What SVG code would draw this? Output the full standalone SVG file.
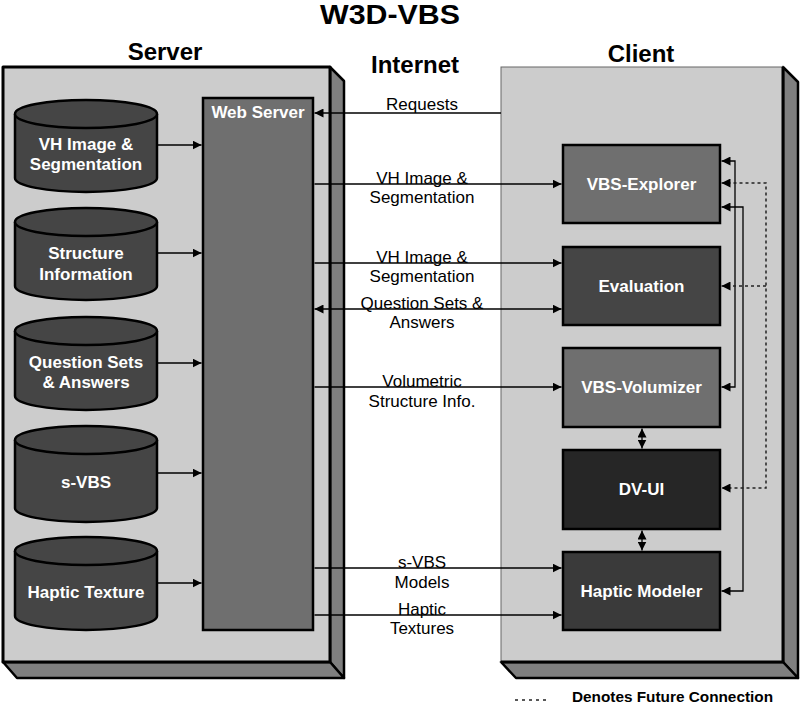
<svg xmlns="http://www.w3.org/2000/svg" width="800" height="707" viewBox="0 0 800 707">
<defs>
<marker id="ah" viewBox="0 0 10 10" refX="10" refY="5" markerWidth="9" markerHeight="9" markerUnits="userSpaceOnUse" orient="auto-start-reverse">
<path d="M0,0 L10,5 L0,10 z" fill="#000"/>
</marker>
<style>
.t{font-family:"Liberation Sans",Arial,sans-serif;}
.h{font-family:"Liberation Sans",Arial,sans-serif;font-weight:bold;font-size:24px;fill:#000;text-anchor:middle;}
.nl{font-family:"Liberation Sans",Arial,sans-serif;font-weight:bold;font-size:17px;fill:#fff;text-anchor:middle;}
.el{font-family:"Liberation Sans",Arial,sans-serif;font-size:17px;fill:#000;text-anchor:middle;}
.face{fill:#cccccc;stroke:#000;stroke-width:3;stroke-linejoin:round;}
.side{fill:#7f7f7f;stroke:#000;stroke-width:2.5;stroke-linejoin:round;}
.cyl{fill:#454545;stroke:#000;stroke-width:2.5;}
.box{stroke:#000;stroke-width:2.5;}
.c{fill:none;stroke:#000;stroke-width:1.3;}
.d{fill:none;stroke:#222;stroke-width:1.5;stroke-dasharray:3,3;}
</style>
</defs>
<rect width="800" height="707" fill="#fff"/>
<text class="t" x="390" y="24" font-size="28" font-weight="bold" text-anchor="middle" textLength="140" lengthAdjust="spacingAndGlyphs">W3D-VBS</text>
<text class="h" x="165" y="60">Server</text>
<text class="h" x="415" y="73">Internet</text>
<text class="h" x="641" y="62">Client</text>

<g id="server">
<polygon class="side" points="330,67 344,81 344,678 330,662"/>
<polygon class="side" points="3,662 330,662 344,678 17,678"/>
<rect class="face" x="3" y="67" width="327" height="595"/>
</g>
<g id="client">
<polygon class="side" points="783,67 798,82 798,678 783,662"/>
<polygon class="side" points="501,662 783,662 798,678 516,678"/>
<rect x="501" y="67" width="282" height="595" fill="#cccccc" stroke="#666" stroke-width="1"/>
<path d="M783,67 V662 H501" fill="none" stroke="#000" stroke-width="3"/>
</g>

<g id="db-vh">
<path class="cyl" d="M15,114 V178 A71,14 0 0 0 157,178 V114"/>
<ellipse class="cyl" cx="86" cy="114" rx="71" ry="14"/>
<text class="nl" x="86" y="150">VH Image &amp;</text>
<text class="nl" x="86" y="170">Segmentation</text>
</g>
<g id="db-structure">
<path class="cyl" d="M15,222 V286 A71,14 0 0 0 157,286 V222"/>
<ellipse class="cyl" cx="86" cy="222" rx="71" ry="14"/>
<text class="nl" x="86" y="259">Structure</text>
<text class="nl" x="86" y="280">Information</text>
</g>
<g id="db-question">
<path class="cyl" d="M15,331 V396 A71,14 0 0 0 157,396 V331"/>
<ellipse class="cyl" cx="86" cy="331" rx="71" ry="14"/>
<text class="nl" x="86" y="368">Question Sets</text>
<text class="nl" x="86" y="388">&amp; Answers</text>
</g>
<g id="db-svbs">
<path class="cyl" d="M15,440 V508 A71,14 0 0 0 157,508 V440"/>
<ellipse class="cyl" cx="86" cy="440" rx="71" ry="14"/>
<text class="nl" x="86" y="488">s-VBS</text>
</g>
<g id="db-haptic">
<path class="cyl" d="M15,551 V616 A71,14 0 0 0 157,616 V551"/>
<ellipse class="cyl" cx="86" cy="551" rx="71" ry="14"/>
<text class="nl" x="86" y="598">Haptic Texture</text>
</g>

<g id="webserver">
<rect class="box" x="203" y="98" width="110" height="532" fill="#6f6f6f"/>
<text class="nl" x="258" y="118">Web Server</text>
</g>

<g id="vbs-explorer">
<rect class="box" x="563" y="145" width="157" height="78" fill="#6f6f6f"/>
<text class="nl" x="641.5" y="190">VBS-Explorer</text>
</g>
<g id="evaluation">
<rect class="box" x="563" y="247" width="157" height="78" fill="#454545"/>
<text class="nl" x="641.5" y="292">Evaluation</text>
</g>
<g id="vbs-volumizer">
<rect class="box" x="563" y="348" width="157" height="79" fill="#6f6f6f"/>
<text class="nl" x="641.5" y="393">VBS-Volumizer</text>
</g>
<g id="dv-ui">
<rect class="box" x="563" y="450" width="157" height="79" fill="#262626"/>
<text class="nl" x="641.5" y="495">DV-UI</text>
</g>
<g id="haptic-modeler">
<rect class="box" x="563" y="552" width="157" height="78" fill="#3a3a3a"/>
<text class="nl" x="641.5" y="597">Haptic Modeler</text>
</g>

<g id="connectors">
<path class="c" d="M157,145 H201.5" marker-end="url(#ah)"/>
<path class="c" d="M157,253 H201.5" marker-end="url(#ah)"/>
<path class="c" d="M157,363 H201.5" marker-end="url(#ah)"/>
<path class="c" d="M157,473 H201.5" marker-end="url(#ah)"/>
<path class="c" d="M157,583 H201.5" marker-end="url(#ah)"/>

<path class="c" d="M501,113 H314.5" marker-end="url(#ah)"/>
<path class="c" d="M314.5,184 H561.5" marker-end="url(#ah)"/>
<path class="c" d="M314.5,263 H561.5" marker-end="url(#ah)"/>
<path class="c" d="M314.5,309 H561.5" marker-start="url(#ah)" marker-end="url(#ah)"/>
<path class="c" d="M314.5,387 H561.5" marker-end="url(#ah)"/>
<path class="c" d="M314.5,568 H561.5" marker-end="url(#ah)"/>
<path class="c" d="M314.5,615 H561.5" marker-end="url(#ah)"/>

<path class="c" d="M721.5,161 H735 V387 H721.5" marker-start="url(#ah)" marker-end="url(#ah)"/>
<path class="c" d="M721.5,207 H743 V591 H721.5" marker-start="url(#ah)" marker-end="url(#ah)"/>
<path class="d" d="M721.5,183 H766 V488 H721.5" marker-start="url(#ah)" marker-end="url(#ah)"/>
<path class="d" d="M766,286 H721.5" marker-end="url(#ah)"/>

<path class="c" d="M642,428.5 V448.5" marker-start="url(#ah)" marker-end="url(#ah)"/>
<path class="c" d="M642,530.5 V550.5" marker-start="url(#ah)" marker-end="url(#ah)"/>
</g>

<g id="edge-labels">
<text class="el" x="422" y="110">Requests</text>
<text class="el" x="422" y="184">VH Image &amp;</text>
<text class="el" x="422" y="203">Segmentation</text>
<text class="el" x="422" y="263">VH Image &amp;</text>
<text class="el" x="422" y="282">Segmentation</text>
<text class="el" x="422" y="309">Question Sets &amp;</text>
<text class="el" x="422" y="328">Answers</text>
<text class="el" x="422" y="387">Volumetric</text>
<text class="el" x="422" y="407">Structure Info.</text>
<text class="el" x="422" y="568">s-VBS</text>
<text class="el" x="422" y="588">Models</text>
<text class="el" x="422" y="615">Haptic</text>
<text class="el" x="422" y="634">Textures</text>
</g>

<g id="legend">
<path d="M515,700 H549" fill="none" stroke="#222" stroke-width="1.3" stroke-dasharray="3,4"/>
<text class="t" x="572" y="702" font-size="15" font-weight="bold" textLength="201" lengthAdjust="spacingAndGlyphs">Denotes Future Connection</text>
</g>
</svg>
